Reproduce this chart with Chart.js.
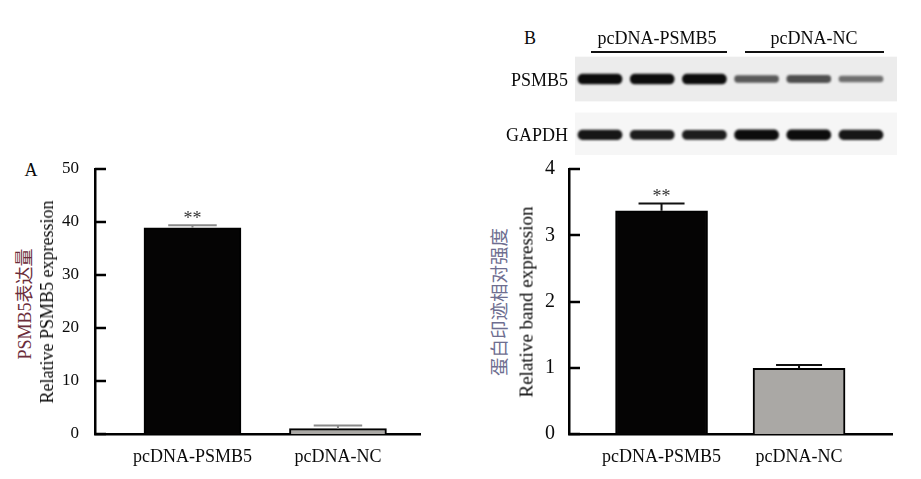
<!DOCTYPE html>
<html><head><meta charset="utf-8">
<script src="https://cdn.jsdelivr.net/npm/chart.js@4"></script>
<style>
html,body{margin:0;padding:0;background:#fff;}
body{width:921px;height:479px;position:relative;overflow:hidden;font-family:"Liberation Serif","Noto Sans CJK SC",serif;color:#0a0a0a;}
.t{position:absolute;white-space:nowrap;line-height:1;font-size:18px;transform:translate(-50%,-50%);}
.r{transform:translate(-50%,-50%) rotate(-90deg);}
.re{transform:translate(-100%,-50%);}
.ul{position:absolute;height:2px;background:#111;}
canvas{position:absolute;}
</style></head><body>
<canvas id="chartA" width="375" height="329" style="left:55px;top:150px"></canvas>
<canvas id="chartB" width="375" height="329" style="left:529px;top:150px"></canvas>
<canvas id="blot" width="322" height="100" style="left:575px;top:55px"></canvas>

<div class="t" style="left:31px;top:170px">A</div>
<div class="t r" style="left:25px;top:304px;color:#6b2d3a">PSMB5表达量</div>
<div class="t r" style="left:47px;top:302px">Relative PSMB5 expression</div>

<div class="t" style="left:530px;top:38px">B</div>
<div class="t" style="left:657px;top:38px">pcDNA-PSMB5</div>
<div class="t" style="left:814px;top:38px">pcDNA-NC</div>
<div class="ul" style="left:591px;top:51px;width:136px"></div>
<div class="ul" style="left:745px;top:51px;width:139px"></div>
<div class="t re" style="left:568px;top:80px">PSMB5</div>
<div class="t re" style="left:568px;top:135px">GAPDH</div>
<div class="t r" style="left:500px;top:302px;color:#6e6e90;font-size:18.5px">蛋白印迹相对强度</div>
<div class="t r" style="left:526px;top:302px;font-size:19px">Relative band expression</div>

<script>
// ---- data ----
const categories = ['pcDNA-PSMB5', 'pcDNA-NC'];
const qpcrValues = [38.9, 1.0];
const qpcrErrors = [0.5, 0.6];
const bandValues = [3.37, 0.99];
const bandErrors = [0.11, 0.05];
const significance = ['**', ''];
const qpcrTicks = [0, 10, 20, 30, 40, 50];
const bandTicks = [0, 1, 2, 3, 4];
const blotLanes = [0, 1, 2, 3, 4, 5];
const blotRows = ['PSMB5', 'GAPDH'];
const psmb5Bands = [1.0, 1.0, 1.0, 0.55, 0.6, 0.42];
const gapdhBands = [0.95, 0.9, 0.9, 1.0, 1.0, 0.95];

const FONT = '"Liberation Serif", "Noto Sans CJK SC", serif';

const errorPlugin = {
  id: 'errorBars',
  afterDatasetsDraw(chart, args, opts) {
    const {ctx, scales: {x, y}} = chart;
    const vals = opts.values, errs = opts.errors;
    ctx.save();
    ctx.strokeStyle = opts.color;
    ctx.lineWidth = 2;
    vals.forEach((v, i) => {
      const px = x.getPixelForValue(i);
      const yv = y.getPixelForValue(v);
      const yt = y.getPixelForValue(v + errs[i]);
      const half = opts.capHalf;
      ctx.beginPath();
      ctx.moveTo(px, yv); ctx.lineTo(px, yt);
      ctx.moveTo(px - half, yt); ctx.lineTo(px + half, yt);
      ctx.stroke();
      if (significance[i]) {
        ctx.fillStyle = '#333';
        ctx.font = '18px ' + FONT;
        ctx.textAlign = 'center';
        ctx.textBaseline = 'alphabetic';
        ctx.fillText(significance[i], px, yt - 1);
      }
    });
    ctx.restore();
  }
};

const inTicks = {
  id: 'inTicks',
  afterDraw(chart) {
    const {ctx, chartArea, scales: {y}} = chart;
    ctx.save();
    ctx.strokeStyle = '#000';
    ctx.lineWidth = 2.5;
    y.ticks.forEach(t => {
      const py = Math.round(y.getPixelForValue(t.value));
      ctx.beginPath();
      ctx.moveTo(chartArea.left, py);
      ctx.lineTo(chartArea.left + 11, py);
      ctx.stroke();
    });
    ctx.restore();
  }
};

function makeBar(id, values, errors, yTicks, cfg) {
  return new Chart(document.getElementById(id), {
    type: 'bar',
    data: {
      datasets: [{
        data: values.map((v, i) => ({x: i, y: v})),
        backgroundColor: ['#050404', '#aaa8a5'],
        borderColor: '#000',
        borderWidth: 2,
        borderSkipped: 'bottom',
        barThickness: cfg.barW
      }]
    },
    options: {
      responsive: false, animation: false, events: [],
      layout: {padding: {top: 19, right: cfg.padR, bottom: 0, left: 0}},
      plugins: {
        legend: {display: false}, tooltip: {enabled: false},
        errorBars: {values, errors, color: cfg.errColor, capHalf: cfg.barW / 4}
      },
      scales: {
        x: {
          type: 'linear', min: cfg.xMin, max: cfg.xMax, offset: false,
          grid: {display: false, offset: false},
          border: {display: true, color: '#000', width: 2.5},
          afterBuildTicks: s => { s.ticks = values.map((_, i) => ({value: i})); },
          ticks: {callback: v => categories[v] ?? '', color: '#0a0a0a', padding: 4,
                  font: {family: FONT, size: 18}, maxRotation: 0, autoSkip: false},
          afterFit: s => { s.height = 45; }
        },
        y: {
          min: yTicks[0], max: yTicks[yTicks.length - 1],
          grid: {display: false},
          border: {display: true, color: '#000', width: 2.5},
          afterBuildTicks: s => { s.ticks = yTicks.map(v => ({value: v})); },
          ticks: {color: '#0a0a0a', padding: cfg.tickPad, font: {family: FONT, size: cfg.tickSize}},
          afterFit: s => { s.width = 40; }
        }
      }
    },
    plugins: [errorPlugin, inTicks]
  });
}

makeBar('chartA', qpcrValues, qpcrErrors, qpcrTicks,
  {barW: 97, padR: 10, xMin: -0.670, xMax: 1.564, errColor: '#8a8a8a', tickPad: 8, tickSize: 17});
makeBar('chartB', bandValues, bandErrors, bandTicks,
  {barW: 92, padR: 12, xMin: -0.673, xMax: 1.676, errColor: '#111', tickPad: 6, tickSize: 20});

// ---- western blot ----
const PX_PER_ROW = 56;
const bandHalf = I => (3 + 7 * I) / 2 / PX_PER_ROW;
const bandColor = I => `rgba(12,12,12,${(0.25 + 0.75 * I).toFixed(2)})`;
const rowBands = [psmb5Bands, gapdhBands];

const blotBg = {
  id: 'blotBg',
  beforeDatasetsDraw(chart) {
    const {ctx, chartArea, scales: {y}} = chart;
    const fills = ['#ececec', '#f6f6f6'];
    ctx.save();
    blotRows.forEach((_, r) => {
      const t = y.getPixelForValue(r - 0.4), b = y.getPixelForValue(r + 0.4);
      ctx.fillStyle = fills[r];
      ctx.fillRect(chartArea.left, t, chartArea.right - chartArea.left, b - t);
    });
    ctx.restore();
    ctx.save();
    ctx.filter = 'blur(1.3px)';
  },
  afterDatasetsDraw(chart) { chart.ctx.restore(); }
};

new Chart(document.getElementById('blot'), {
  type: 'bar',
  data: {
    datasets: rowBands.map((bands, r) => ({
      label: blotRows[r],
      data: blotLanes.map((l, i) => ({x: l, y: [r - bandHalf(bands[i]), r + bandHalf(bands[i])]})),
      backgroundColor: bands.map(bandColor),
      borderWidth: 0,
      borderSkipped: false,
      borderRadius: 6,
      barThickness: 44,
      grouped: false
    }))
  },
  options: {
    responsive: false, animation: false, events: [],
    layout: {padding: 0},
    plugins: {legend: {display: false}, tooltip: {enabled: false}},
    scales: {
      x: {type: 'linear', display: false, min: -0.479, max: 5.69, offset: false},
      y: {display: false, min: -0.43, max: 1.36, reverse: true}
    }
  },
  plugins: [blotBg]
});
</script>
</body></html>
